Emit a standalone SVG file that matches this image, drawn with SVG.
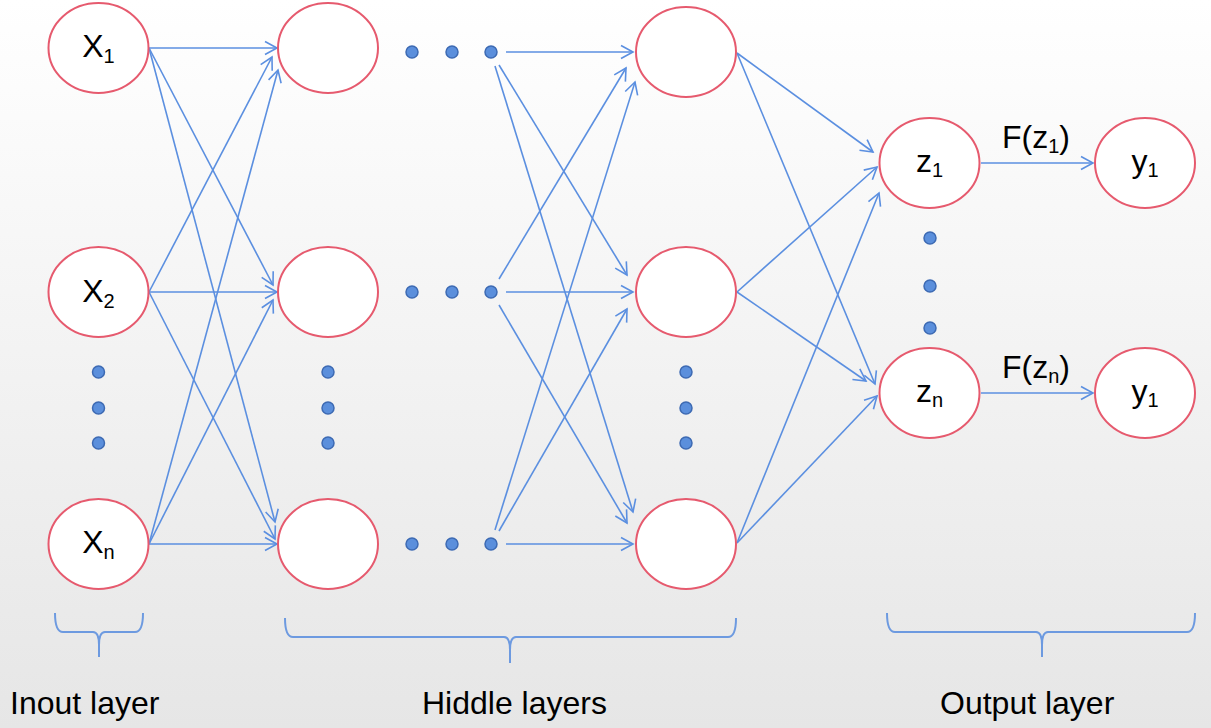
<svg xmlns="http://www.w3.org/2000/svg" width="1211" height="728" viewBox="0 0 1211 728">
<defs>
<linearGradient id="bg" x1="0" y1="0" x2="0" y2="1">
<stop offset="0" stop-color="#ffffff"/>
<stop offset="1" stop-color="#e6e6e6"/>
</linearGradient>
<marker id="arr" markerUnits="userSpaceOnUse" markerWidth="16" markerHeight="16" refX="14" refY="8" orient="auto">
<path d="M2,1.5 L14,8 L2,14.5" fill="none" stroke="#5b8fe0" stroke-width="1.6"/>
</marker>
<style>
.node{fill:#ffffff;stroke:#e65a6e;stroke-width:2}
.lbl{font-family:"Liberation Sans",Arial,sans-serif;font-size:32px;fill:#000}
.sub{font-size:20px}
.c line{stroke:#5b8fe0;stroke-width:1.6;marker-end:url(#arr)}
.dot{fill:#5b8fdc;stroke:#3d6ab3;stroke-width:1.5}
.brace{fill:none;stroke:#6d9ae0;stroke-width:2}
</style>
</defs>
<rect width="1211" height="728" fill="url(#bg)"/>

<g id="connectors" class="c">
<line x1="149" y1="48" x2="277" y2="48"/>
<line x1="149" y1="48" x2="273" y2="285"/>
<line x1="149" y1="48" x2="275" y2="522"/>
<line x1="149" y1="292" x2="272" y2="57"/>
<line x1="149" y1="292" x2="277" y2="292"/>
<line x1="149" y1="292" x2="275" y2="539"/>
<line x1="149" y1="544" x2="278" y2="70"/>
<line x1="149" y1="544" x2="273" y2="300"/>
<line x1="149" y1="544" x2="277" y2="544"/>

<line x1="506" y1="52" x2="633" y2="52"/>
<line x1="499" y1="65" x2="627" y2="275"/>
<line x1="495" y1="66" x2="633" y2="512"/>
<line x1="499" y1="279" x2="626" y2="68"/>
<line x1="506" y1="292" x2="633" y2="292"/>
<line x1="499" y1="305" x2="627" y2="523"/>
<line x1="495" y1="530" x2="635" y2="82"/>
<line x1="499" y1="531" x2="627" y2="309"/>
<line x1="506" y1="544" x2="633" y2="544"/>

<line x1="737" y1="53" x2="873" y2="152"/>
<line x1="737" y1="53" x2="875" y2="384"/>
<line x1="737" y1="292" x2="877" y2="167"/>
<line x1="737" y1="292" x2="866" y2="381"/>
<line x1="737" y1="543" x2="879" y2="193"/>
<line x1="737" y1="543" x2="877" y2="396"/>

<line x1="981" y1="163" x2="1093" y2="163"/>
<line x1="981" y1="393" x2="1093" y2="393"/>
</g>

<g id="input-layer">
<g id="x1"><ellipse class="node" cx="98.5" cy="48" rx="50" ry="45"/><text class="lbl" x="98.5" y="57" text-anchor="middle">X<tspan class="sub" dy="6">1</tspan></text></g>
<g id="x2"><ellipse class="node" cx="98.5" cy="292" rx="50" ry="45"/><text class="lbl" x="98.5" y="302" text-anchor="middle">X<tspan class="sub" dy="6">2</tspan></text></g>
<g id="xn"><ellipse class="node" cx="98.5" cy="544" rx="50" ry="45"/><text class="lbl" x="98.5" y="553" text-anchor="middle">X<tspan class="sub" dy="6">n</tspan></text></g>
</g>

<g id="hidden1">
<g id="a1"><ellipse class="node" cx="328" cy="48" rx="50" ry="45"/></g>
<g id="a2"><ellipse class="node" cx="328" cy="292" rx="50" ry="45"/></g>
<g id="a3"><ellipse class="node" cx="328" cy="544" rx="50" ry="45"/></g>
</g>

<g id="hidden2">
<g id="b1"><ellipse class="node" cx="686" cy="52" rx="50" ry="45"/></g>
<g id="b2"><ellipse class="node" cx="686" cy="292" rx="50" ry="45"/></g>
<g id="b3"><ellipse class="node" cx="686" cy="544" rx="50" ry="45"/></g>
</g>

<g id="output-layer">
<g id="z1"><ellipse class="node" cx="929.5" cy="163" rx="50" ry="45"/><text class="lbl" x="929.5" y="172" text-anchor="middle">z<tspan class="sub" dy="5">1</tspan></text></g>
<g id="zn"><ellipse class="node" cx="929.5" cy="393" rx="50" ry="45"/><text class="lbl" x="929.5" y="402" text-anchor="middle">z<tspan class="sub" dy="5">n</tspan></text></g>
<g id="y1a"><ellipse class="node" cx="1145" cy="163" rx="50" ry="45"/><text class="lbl" x="1145" y="172" text-anchor="middle">y<tspan class="sub" dy="5">1</tspan></text></g>
<g id="y1b"><ellipse class="node" cx="1145" cy="393" rx="50" ry="45"/><text class="lbl" x="1145" y="402" text-anchor="middle">y<tspan class="sub" dy="5">1</tspan></text></g>
<text class="lbl" x="1002" y="148">F(z<tspan class="sub" dy="5">1</tspan><tspan dy="-5">)</tspan></text>
<text class="lbl" x="1002" y="378">F(z<tspan class="sub" dy="5">n</tspan><tspan dy="-5">)</tspan></text>
</g>

<g id="dots">
<circle class="dot" cx="412" cy="52" r="6"/><circle class="dot" cx="452" cy="52" r="6"/><circle class="dot" cx="491" cy="52" r="6"/>
<circle class="dot" cx="412" cy="292" r="6"/><circle class="dot" cx="452" cy="292" r="6"/><circle class="dot" cx="491" cy="292" r="6"/>
<circle class="dot" cx="412" cy="544" r="6"/><circle class="dot" cx="452" cy="544" r="6"/><circle class="dot" cx="491" cy="544" r="6"/>
<circle class="dot" cx="98.5" cy="372" r="6"/><circle class="dot" cx="98.5" cy="408" r="6"/><circle class="dot" cx="98.5" cy="443" r="6"/>
<circle class="dot" cx="328" cy="372" r="6"/><circle class="dot" cx="328" cy="408" r="6"/><circle class="dot" cx="328" cy="443" r="6"/>
<circle class="dot" cx="686" cy="372" r="6"/><circle class="dot" cx="686" cy="408" r="6"/><circle class="dot" cx="686" cy="443" r="6"/>
<circle class="dot" cx="930" cy="238" r="6"/><circle class="dot" cx="930" cy="286" r="6"/><circle class="dot" cx="930" cy="328" r="6"/>
</g>

<g id="braces">
<path class="brace" d="M55,613 Q55,632 63,632 L93,632 Q99,632 99,645 L99,657 M99,645 Q99,632 105,632 L135,632 Q143,632 143,613"/>
<path class="brace" d="M285,618 Q285,637 293,637 L504,637 Q510,637 510,650 L510,663 M510,650 Q510,637 516,637 L728,637 Q736,637 736,618"/>
<path class="brace" d="M887,613 Q887,632 895,632 L1036,632 Q1042,632 1042,645 L1042,657 M1042,645 Q1042,632 1048,632 L1187,632 Q1195,632 1195,613"/>
</g>

<g id="labels">
<text class="lbl" x="10" y="714">Inout layer</text>
<text class="lbl" x="422" y="714">Hiddle layers</text>
<text class="lbl" x="940" y="714">Output layer</text>
</g>
</svg>
